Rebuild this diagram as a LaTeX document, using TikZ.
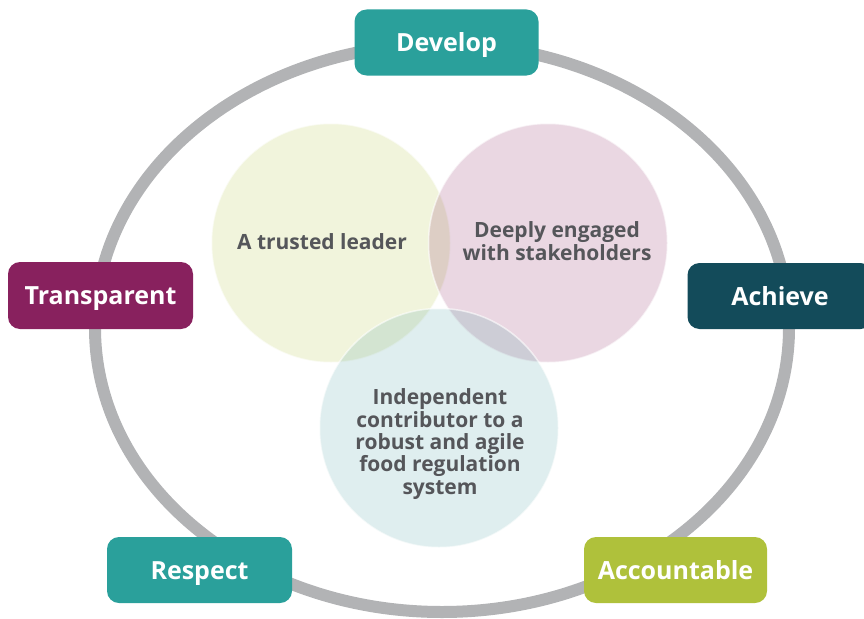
\documentclass[tikz,border=0pt]{standalone}
\usepackage{fontspec}
\setmainfont{Open Sans}[UprightFont=* Bold]
\definecolor{ringgray}{HTML}{B2B3B5}
\definecolor{tealc}{HTML}{2AA09B}
\definecolor{plumc}{HTML}{88215E}
\definecolor{navyc}{HTML}{134B5A}
\definecolor{limec}{HTML}{AFC13B}
\definecolor{bluec}{HTML}{4FA0A4}
\definecolor{txtgray}{HTML}{55565A}
\tikzset{
  valuebox/.style={rounded corners=12pt, minimum width=184pt, minimum height=66pt,
    text=white, font=\fontsize{25}{28}\selectfont, inner sep=0pt,
    text height=18pt, text depth=0pt},
  venn/.style={circle, minimum size=239pt, inner sep=0pt, fill opacity=0.18,
    draw=white, draw opacity=0.6, line width=1.5pt},
  venntext/.style={text=txtgray, align=center, font=\fontsize{21}{22.4}\selectfont, inner sep=0pt},
}
\begin{document}
\begin{tikzpicture}[x=1pt,y=-1pt]
\useasboundingbox (0,0) rectangle (864,618);
\begin{scope}
\clip (0,0) rectangle (864,618);
% ring
\draw[ringgray, line width=12pt] (442,328) ellipse [x radius=347, y radius=284];
% venn circles
\node[venn, fill=limec] (cy) at (331,243) {};
\node[venn, fill=plumc] (cp) at (548,243) {};
\node[venn, fill=bluec] (cb) at (439,428) {};
\node[venntext] (ty) at (322,242) {A trusted leader};
\node[venntext] (tp) at (557,241) {Deeply engaged\\with stakeholders};
\node[venntext] (tb) at (440,444) {Independent\\contributor to a\\robust and agile\\food regulation\\system};
% value boxes
\node[valuebox, fill=tealc] (develop) at (446.5,42.5) {Develop};
\node[valuebox, fill=plumc, minimum width=185pt, minimum height=67pt] (transparent) at (100.5,295.5) {Transparent};
\node[valuebox, fill=navyc, minimum width=185pt] (achieve) at (780,296) {Achieve};
\node[valuebox, fill=tealc, minimum width=185pt] (respect) at (199.5,570) {Respect};
\node[valuebox, fill=limec, minimum width=183pt] (accountable) at (675.5,570) {Accountable};
\end{scope}
\end{tikzpicture}
\end{document}
